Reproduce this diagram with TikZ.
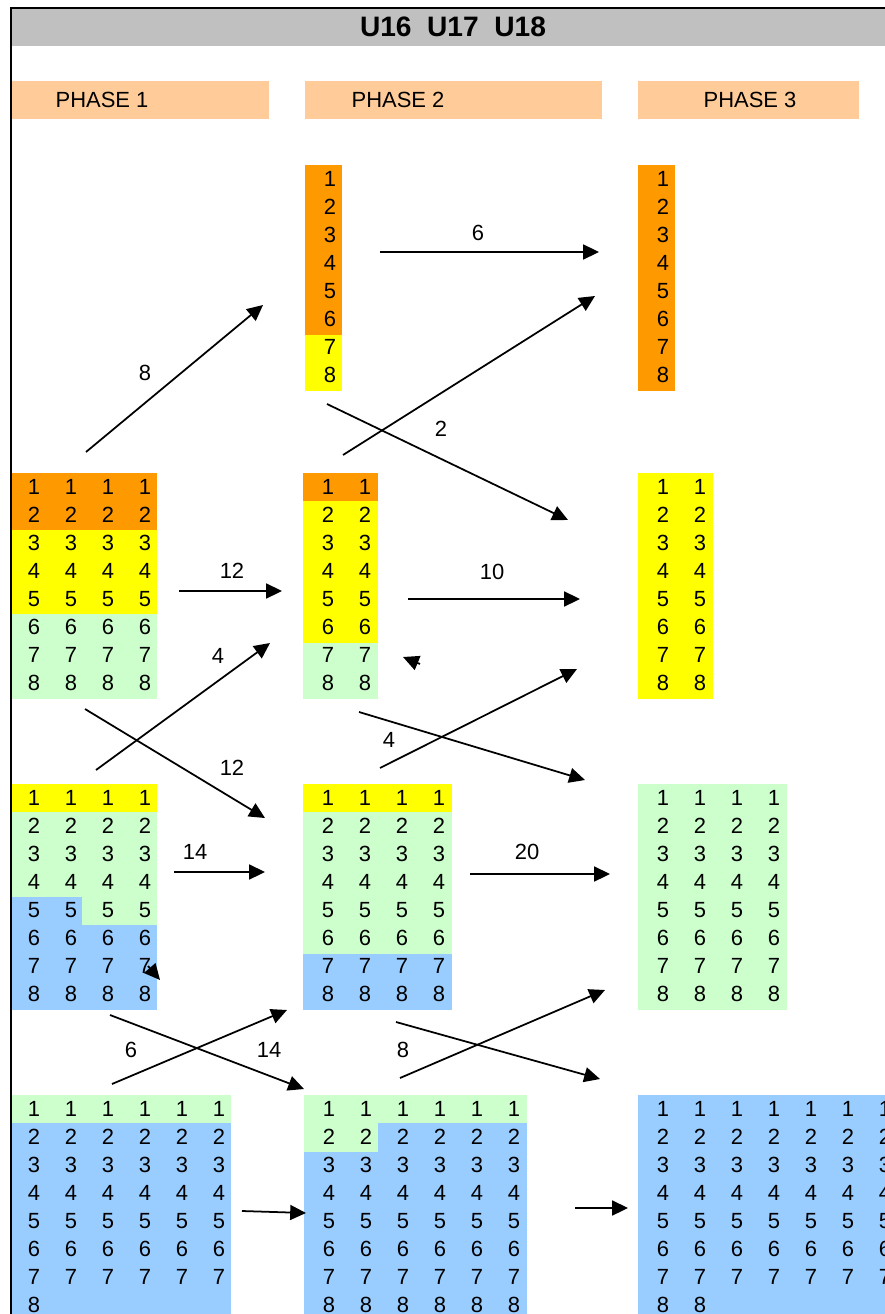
\documentclass[tikz,border=0pt]{standalone}
\usepackage{fontspec}
\setmainfont{Liberation Sans}
\usetikzlibrary{arrows.meta}

\definecolor{xlorange}{HTML}{FF9900}
\definecolor{xlyellow}{HTML}{FFFF00}
\definecolor{xlgreen}{HTML}{CCFFCC}
\definecolor{xlblue}{HTML}{99CCFF}
\definecolor{xlphase}{HTML}{FFCC99}
\definecolor{xlgray}{HTML}{C0C0C0}

% name, x0, y0, columns, rows
\newcommand{\numgrid}[5]{%
  \foreach \c in {1,...,#4}
    \foreach \r in {1,...,#5}
      \node [num] at ({#2+25+37*(\c-1)},{#3+14+28*(\r-1)}) (#1\c\r) {\r};%
}

\begin{document}
\begin{tikzpicture}[x=0.02cm, y=-0.02cm, line width=1pt,
    >={Triangle[length=9pt,width=8.5pt]},
    num/.style={inner sep=0pt, font=\fontsize{12.5}{14}\selectfont},
    lbl/.style={inner sep=0pt, font=\fontsize{12.5}{14}\selectfont}]

    \useasboundingbox (0,0) rectangle (885,1314);
    \clip (0,0) rectangle (885,1314);

    \fill [xlgray] (12,9) rectangle (885,46);
    \node [font=\bfseries\fontsize{16}{18}\selectfont] at (453,27) (title) {U16\ \ U17\ \ U18};

    \fill [xlphase] (11,81) rectangle (269,119);
    \fill [xlphase] (305,81) rectangle (602,119);
    \fill [xlphase] (638,81) rectangle (859,119);
    \node [lbl] at (102,100) (ph1) {PHASE 1};
    \node [lbl] at (398,100) (ph2) {PHASE 2};
    \node [lbl] at (750,100) (ph3) {PHASE 3};


    \fill [xlorange] (305,165) rectangle (342,334.5);
    \fill [xlyellow] (305,334.5) rectangle (342,391);
    \fill [xlorange] (638,165) rectangle (675,391);

    \fill [xlorange] (11,473) rectangle (157,529.5);
    \fill [xlyellow] (11,529.5) rectangle (157,614.25);
    \fill [xlgreen] (11,614.25) rectangle (157,699);
    \fill [xlorange] (303,473) rectangle (378,501.25);
    \fill [xlyellow] (303,501.25) rectangle (378,642.5);
    \fill [xlgreen] (303,642.5) rectangle (378,699);
    \fill [xlyellow] (638,473) rectangle (713,699);

    \fill [xlyellow] (11,784) rectangle (157,812.25);
    \fill [xlgreen] (11,812.25) rectangle (157,925.25);
    \fill [xlblue] (11,897) rectangle (82,925.25);
    \fill [xlblue] (11,925.25) rectangle (157,1010);
    \fill [xlyellow] (303,784) rectangle (452,812.25);
    \fill [xlgreen] (303,812.25) rectangle (452,953.5);
    \fill [xlblue] (303,953.5) rectangle (452,1010);
    \fill [xlgreen] (638,784) rectangle (787,1010);

    \fill [xlgreen] (11,1095) rectangle (231,1123.25);
    \fill [xlblue] (11,1123.25) rectangle (231,1320);
    \fill [xlgreen] (304,1095) rectangle (527,1123.25);
    \fill [xlgreen] (304,1123.25) rectangle (378,1151.5);
    \fill [xlblue] (378,1123.25) rectangle (527,1151.5);
    \fill [xlblue] (304,1151.5) rectangle (527,1320);
    \fill [xlblue] (638,1095) rectangle (900,1320);


    \numgrid{p2a}{305}{165}{1}{8}
    \numgrid{p3a}{638}{165}{1}{8}
    \numgrid{p1b}{9}{473}{4}{8}
    \numgrid{p2b}{303}{473}{2}{8}
    \numgrid{p3b}{638}{473}{2}{8}
    \numgrid{p1c}{9}{784}{4}{8}
    \numgrid{p2c}{303}{784}{4}{8}
    \numgrid{p3c}{638}{784}{4}{8}
    \numgrid{p1d}{9}{1095}{6}{7}
    \node [num] at (34,1305) (p1d18) {8};
    \numgrid{p2d}{304}{1095}{6}{8}
    \numgrid{p3d}{638}{1095}{7}{7}
    \node [num] at (663,1305) (p3d18) {8};
    \node [num] at (700,1305) (p3d28) {8};


    \coordinate (s1) at (86,452);    \coordinate (t1) at (263,305);
    \coordinate (s2) at (380,252);   \coordinate (t2) at (599,252);
    \coordinate (s3) at (343,455);   \coordinate (t3) at (595,296);
    \coordinate (s4) at (327,404);   \coordinate (t4) at (568,520);
    \coordinate (s5) at (179,591);   \coordinate (t5) at (282,591);
    \coordinate (s6) at (96,770);    \coordinate (t6) at (270,643);
    \coordinate (s7) at (85,709);    \coordinate (t7) at (265,818);
    \coordinate (s8) at (420,664);   \coordinate (t8) at (403,657);
    \coordinate (s9) at (408,599);   \coordinate (t9) at (580,599);
    \coordinate (s10) at (359,712);  \coordinate (t10) at (585,780);
    \coordinate (s11) at (380,768);  \coordinate (t11) at (577,669);
    \coordinate (s12) at (174,872);  \coordinate (t12) at (265,872);
    \coordinate (s13) at (148,966);  \coordinate (t13) at (160,980);
    \coordinate (s14) at (470,874);  \coordinate (t14) at (610,874);
    \coordinate (s15) at (110,1015); \coordinate (t15) at (304,1089);
    \coordinate (s16) at (112,1084); \coordinate (t16) at (287,1010);
    \coordinate (s17) at (396,1022); \coordinate (t17) at (600,1079);
    \coordinate (s18) at (400,1078); \coordinate (t18) at (605,990);
    \coordinate (s19) at (242,1211); \coordinate (t19) at (306,1213);
    \coordinate (s20) at (575,1208); \coordinate (t20) at (628,1208);

    \foreach \i in {1,...,20}
      \path [->,draw] (s\i) -- (t\i);

    \node [lbl] at (145,373) (n8a) {8};
    \node [lbl] at (478,233) (n6a) {6};
    \node [lbl] at (441,429) (n2a) {2};
    \node [lbl] at (232,571) (n12a) {12};
    \node [lbl] at (218,656) (n4a) {4};
    \node [lbl] at (232,768) (n12b) {12};
    \node [lbl] at (492,572) (n10a) {10};
    \node [lbl] at (389,740) (n4b) {4};
    \node [lbl] at (195,852) (n14a) {14};
    \node [lbl] at (527,852) (n20a) {20};
    \node [lbl] at (131,1050) (n6b) {6};
    \node [lbl] at (269,1050) (n14b) {14};
    \node [lbl] at (403,1050) (n8b) {8};

    \draw [line width=1.5pt] (885,8) -- (11,8) -- (11,1320);

\end{tikzpicture}
\end{document}
